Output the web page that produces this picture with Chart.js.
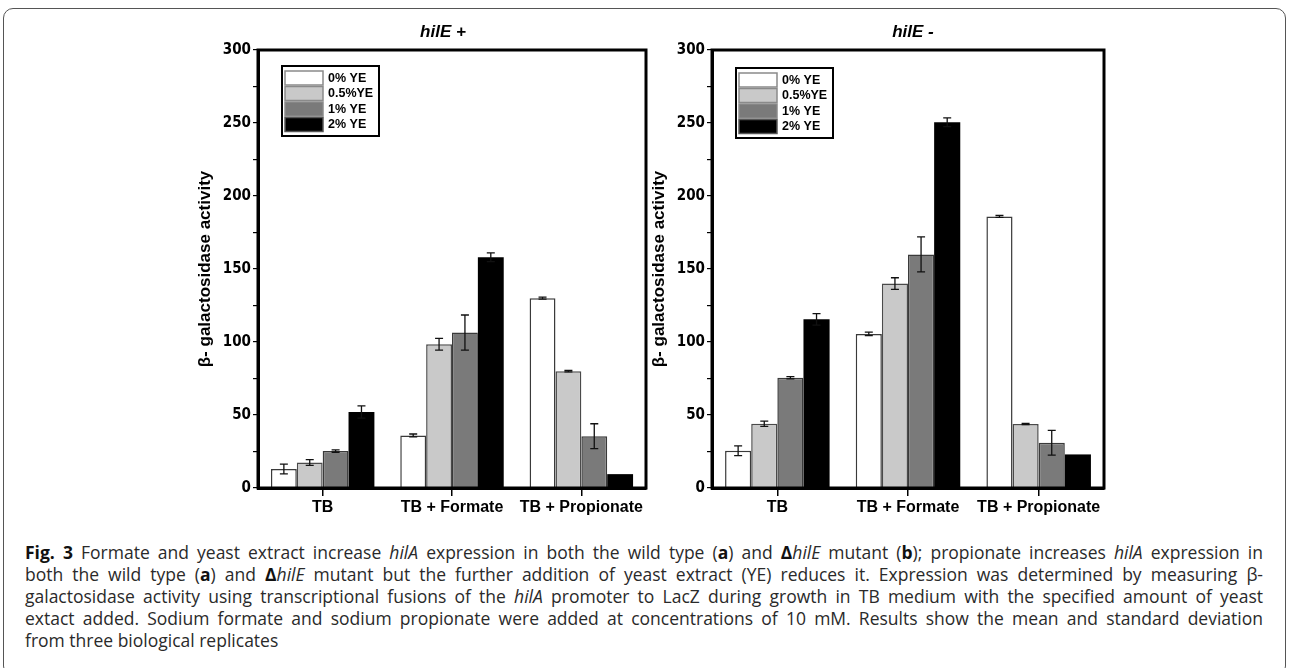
<!DOCTYPE html>
<html>
<head>
<meta charset="utf-8">
<script src="https://cdn.jsdelivr.net/npm/chart.js@4.4.1/dist/chart.umd.min.js"></script>
<style>
html,body{margin:0;padding:0;background:#fff;width:1290px;height:668px;overflow:hidden;}
#frame{position:absolute;left:3px;top:8px;width:1283px;height:668px;border:1.5px solid #555;border-radius:10px;box-sizing:border-box;}
canvas{position:absolute;top:0;}
#c1{left:180px;}
#c2{left:634px;}
#caption{position:absolute;left:25px;top:541px;width:1238px;font-family:"Open Sans","Noto Sans",sans-serif;font-size:16px;line-height:22px;color:#2a2a2a;}
#caption div{white-space:nowrap;text-align:left;}
#caption.fit div{text-align:justify;text-align-last:justify;}
#caption.fit div.last{text-align-last:left;}
#caption b{color:#111;}
</style>
</head>
<body>
<div id="frame"></div>
<canvas id="c1" width="526" height="540"></canvas>
<canvas id="c2" width="558" height="540"></canvas>
<div id="caption">
<div><span><b>Fig. 3</b> Formate and yeast extract increase <i>hilA</i> expression in both the wild type (<b>a</b>) and <b>Δ</b><i>hilE</i> mutant (<b>b</b>); propionate increases <i>hilA</i> expression in</span></div>
<div><span>both the wild type (<b>a</b>) and <b>Δ</b><i>hilE</i> mutant but the further addition of yeast extract (YE) reduces it. Expression was determined by measuring β-</span></div>
<div><span>galactosidase activity using transcriptional fusions of the <i>hilA</i> promoter to LacZ during growth in TB medium with the specified amount of yeast</span></div>
<div><span>extact added. Sodium formate and sodium propionate were added at concentrations of 10 mM. Results show the mean and standard deviation</span></div>
<div class="last"><span>from three biological replicates</span></div>
</div>
<script>
// ---- data ----
const categories = ['TB', 'TB + Formate', 'TB + Propionate'];
const seriesLabels = ['0% YE', '0.5%YE', '1% YE', '2% YE'];
const yTickValues = [0, 50, 100, 150, 200, 250, 300];
const yAxisTitle = 'β- galactosidase activity';
const titlePlus = 'hilE +';
const titleMinus = 'hilE -';

// hilE + (wild type)
const plusYE0 = [13, 36, 130];
const plusYE05 = [17.5, 98.5, 80];
const plusYE1 = [25.3, 106.5, 35.5];
const plusYE2 = [52, 158, 9.5];
const plusErr0 = [3.3, 1, 0.7];
const plusErr05 = [2, 4, 0.5];
const plusErr1 = [0.8, 12, 8.5];
const plusErr2 = [4.2, 3, 0];

// hilE - (mutant)
const minusYE0 = [25.5, 105.5, 186];
const minusYE05 = [44, 140, 43.8];
const minusYE1 = [75.5, 160, 31];
const minusYE2 = [115.5, 250.5, 23];
const minusErr0 = [3.3, 1.2, 0.7];
const minusErr05 = [1.8, 4, 0.4];
const minusErr1 = [0.8, 12, 8.5];
const minusErr2 = [4, 3, 0];

// ---- caption fitting (justified lines) ----
(function fitCaption() {
  const cap = document.getElementById('caption');
  const spans = Array.from(cap.querySelectorAll('div:not(.last) span'));
  const widest = Math.max(...spans.map(s => s.getBoundingClientRect().width));
  const size = Math.min(17.5, 16 * 1232 / widest);
  cap.style.fontSize = size + 'px';
  cap.classList.add('fit');
})();

// ---- styles ----
const fillColors = ['#ffffff', '#c9c9c9', '#7a7a7a', '#000000'];
const edgeColors = ['#3a3a3a', '#4a4a4a', '#3a3a3a', '#000000'];
const swatchEdges = ['#8a8a8a', '#8a8a8a', '#8a8a8a', '#555555'];
const narrowBold = '"Liberation Sans Narrow","DejaVu Sans Condensed","Liberation Sans",Arial,sans-serif';
const sansBold = '"Liberation Sans",Arial,sans-serif';

const errBarPlugin = {
  id: 'errbars',
  afterDatasetsDraw(chart, args, opts) {
    const ctx = chart.ctx, y = chart.scales.y;
    ctx.save();
    ctx.strokeStyle = '#111';
    ctx.lineWidth = 1.3;
    chart.data.datasets.forEach((ds, di) => {
      const meta = chart.getDatasetMeta(di);
      const errs = opts.errors[di];
      meta.data.forEach((bar, i) => {
        const e = errs[i];
        if (!e) return;
        const v = ds.data[i];
        const yt = y.getPixelForValue(v + e), yb = y.getPixelForValue(v - e);
        const x = bar.x;
        ctx.beginPath();
        ctx.moveTo(x, yt); ctx.lineTo(x, yb);
        ctx.moveTo(x - 4, yt); ctx.lineTo(x + 4, yt);
        ctx.moveTo(x - 4, yb); ctx.lineTo(x + 4, yb);
        ctx.stroke();
      });
    });
    ctx.restore();
  }
};

const framePlugin = {
  id: 'frame',
  afterDatasetsDraw(chart) {
    const {ctx, chartArea: a} = chart;
    ctx.save();
    ctx.strokeStyle = '#000';
    ctx.lineWidth = 3;
    ctx.strokeRect(a.left, a.top, a.right - a.left, a.bottom - a.top);
    ctx.restore();
  }
};

const titlePlugin = {
  id: 'panelTitle',
  afterDraw(chart, args, opts) {
    const {ctx, chartArea: a} = chart;
    ctx.save();
    ctx.fillStyle = '#000';
    ctx.font = 'italic bold 17px ' + sansBold;
    ctx.textAlign = 'center';
    ctx.textBaseline = 'middle';
    ctx.fillText(opts.text, (a.left + a.right) / 2 + opts.dx, 32);
    ctx.restore();
  }
};

const boxLegendPlugin = {
  id: 'boxLegend',
  afterDraw(chart, args, opts) {
    const {ctx, chartArea: a} = chart;
    const x0 = a.left + 24, y0 = a.top + opts.dy;
    ctx.save();
    ctx.fillStyle = '#fff';
    ctx.fillRect(x0, y0, 97, 70);
    ctx.strokeStyle = '#000';
    ctx.lineWidth = 2;
    ctx.strokeRect(x0, y0, 97, 70);
    ctx.font = 'bold 12.5px ' + sansBold;
    ctx.textBaseline = 'middle';
    ctx.textAlign = 'left';
    chart.data.datasets.forEach((ds, i) => {
      const sy = y0 + 5 + i * 15.5;
      ctx.fillStyle = ds.backgroundColor;
      ctx.fillRect(x0 + 3, sy, 38, 14);
      ctx.strokeStyle = swatchEdges[i];
      ctx.lineWidth = 1.5;
      ctx.strokeRect(x0 + 3, sy, 38, 14);
      ctx.fillStyle = '#000';
      ctx.fillText(ds.label, x0 + 46, sy + 7.5);
    });
    ctx.restore();
  }
};

function makeChart(id, title, dx, legendDy, rightPad, values, errors) {
  const datasets = values.map((vals, i) => ({
    label: seriesLabels[i],
    data: vals,
    backgroundColor: fillColors[i],
    borderColor: edgeColors[i],
    borderWidth: i === 3 ? 0 : 1.5,
    categoryPercentage: 0.8,
    barPercentage: 1.0
  }));
  return new Chart(document.getElementById(id), {
    type: 'bar',
    data: { labels: categories, datasets },
    plugins: [errBarPlugin, framePlugin, titlePlugin, boxLegendPlugin],
    options: {
      responsive: false,
      animation: false,
      layout: { padding: { left: 0, right: rightPad, top: 50, bottom: 0 } },
      plugins: {
        legend: { display: false },
        title: { display: false },
        tooltip: { enabled: false },
        errbars: { errors },
        panelTitle: { text: title, dx },
        boxLegend: { dy: legendDy }
      },
      scales: {
        x: {
          afterFit(s) { s.height = 52; },
          grid: { display: true, drawOnChartArea: false, offset: false, tickLength: 8, color: '#000', lineWidth: 1.5 },
          border: { display: true, color: '#000', width: 3 },
          ticks: { color: '#000', padding: 2, maxRotation: 0, autoSkip: false, font: { family: sansBold, size: 16, weight: 'bold' } }
        },
        y: {
          min: 0, max: 300,
          afterFit(s) { s.width = 78; },
          afterBuildTicks(s) {
            const t = [];
            for (let v = 0; v <= 300; v += 25) t.push({ value: v });
            s.ticks = t;
          },
          grid: { display: true, drawOnChartArea: false, tickLength: 5, color: '#000', lineWidth: 1.2 },
          border: { display: true, color: '#000', width: 3 },
          ticks: {
            color: '#000', padding: 2, autoSkip: false,
            font: { family: narrowBold, size: 15, weight: 'bold' },
            callback: (v) => yTickValues.includes(v) ? String(v) : ''
          },
          title: {
            display: true, text: yAxisTitle, color: '#000',
            padding: { top: 15, bottom: 0 },
            font: { family: sansBold, size: 17, weight: 'bold' }
          }
        }
      }
    }
  });
}

makeChart('c1', titlePlus, -9, 16, 60,
  [plusYE0, plusYE05, plusYE1, plusYE2],
  [plusErr0, plusErr05, plusErr1, plusErr2]);
makeChart('c2', titleMinus, 5, 18, 88,
  [minusYE0, minusYE05, minusYE1, minusYE2],
  [minusErr0, minusErr05, minusErr1, minusErr2]);
</script>
</body>
</html>
